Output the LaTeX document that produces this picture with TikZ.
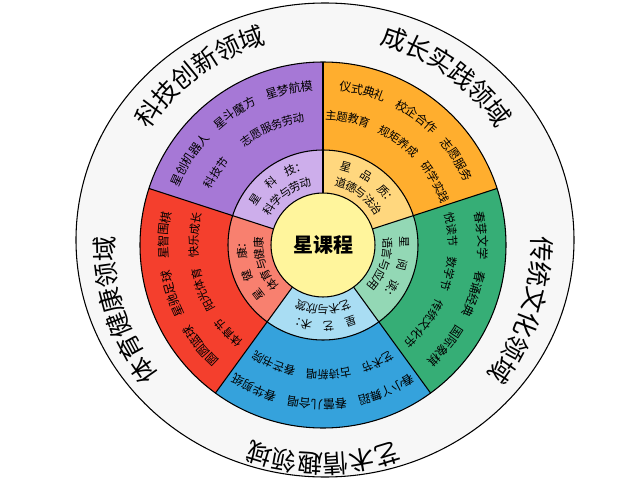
\documentclass[tikz,border=0pt]{standalone}
\usepackage{fontspec}
\setmainfont{Noto Sans CJK SC}
\usetikzlibrary{decorations.text}
\definecolor{purO}{HTML}{A678D6}\definecolor{purI}{HTML}{CDAEEB}
\definecolor{orO}{HTML}{FFAE2E}\definecolor{orI}{HTML}{FFD77E}
\definecolor{grO}{HTML}{36AE76}\definecolor{grI}{HTML}{93D8B5}
\definecolor{blO}{HTML}{35A2DC}\definecolor{blI}{HTML}{A9DDF3}
\definecolor{reO}{HTML}{F43F2D}\definecolor{reI}{HTML}{F8806F}
\definecolor{ctr}{HTML}{FFF59C}
\newcommand\sect[5]{\fill[#5] (#1:#3) arc[start angle=#1,end angle=#2,radius=#3] -- (#2:#4) arc[start angle=#2,end angle=#1,radius=#4] -- cycle;}
\newcommand\arctxt[4]{\path[decorate,decoration={text along path,text={|#3|#4},text align=center,raise=-0.36em}] ({#1+60}:#2) arc[start angle={#1+60},end angle={#1-60},radius=#2];}
\begin{document}
\begin{tikzpicture}[x=0.75pt,y=0.75pt,line width=0.8pt]
\useasboundingbox (0,0) rectangle (640,480);
\fill[white] (0,0) rectangle (640,480);
\draw[fill=gray!6] (325,240) ellipse[x radius=249,y radius=237];
\begin{scope}[shift={(323,235)}]
\sect{90}{162}{95}{183}{purO}\sect{90}{162}{52}{95}{purI}
\sect{18}{90}{95}{183}{orO}\sect{18}{90}{52}{95}{orI}
\sect{-54}{18}{95}{183}{grO}\sect{-54}{18}{52}{95}{grI}
\sect{-126}{-54}{95}{183}{blO}\sect{-126}{-54}{52}{95}{blI}
\sect{162}{234}{95}{183}{reO}\sect{162}{234}{52}{95}{reI}
\draw (0,0) circle[radius=183] (0,0) circle[radius=95];
\foreach \a in {18,90,162,234,306} \draw (\a:52) -- (\a:183);
\node[circle,draw,fill=ctr,minimum size=78pt,inner sep=0pt,font=\fontsize{15}{15}\selectfont\bfseries] (c) at (0,0) {星课程};
% outer labels
\def\big{\fontsize{19}{19}\selectfont}
\arctxt{126}{214}{\big}{科技创新领域}
\arctxt{54}{214}{\big}{成长实践领域}
\arctxt{-18}{214}{\big}{传统文化领域}
\arctxt{-90}{214}{\big}{艺术情趣领域}
\arctxt{198}{214}{\big}{体育健康领域}
\def\it{\fontsize{9}{9}\selectfont}
\def\jt{\fontsize{8.5}{8.5}\selectfont}
\def\mi{\fontsize{8.5}{8.5}\selectfont}
\arctxt{126}{160}{\it}{星创机器人　星斗魔方　星梦航模}
\arctxt{126}{130}{\jt}{科技节　　志愿服务劳动}
\arctxt{126}{82}{\mi}{星　科　技：}
\arctxt{126}{65}{\mi}{科学与劳动}
\arctxt{54}{160}{\it}{仪式典礼　校企合作　志愿服务}
\arctxt{54}{130}{\jt}{主题教育　规矩养成　研学实践}
\arctxt{54}{82}{\mi}{星　品　质：}
\arctxt{54}{65}{\mi}{道德与法治}
\arctxt{-18}{160}{\it}{春芽文学　春诵经典　国际象棋}
\arctxt{-18}{130}{\jt}{悦读节　数学节　传统文化节}
\arctxt{-18}{82}{\mi}{星　阅　读：}
\arctxt{-18}{65}{\mi}{语言与应用}
\arctxt{-90}{160}{\it}{春小丫舞蹈　春蕾儿合唱　春华剪纸}
\arctxt{-90}{130}{\jt}{艺术节　古诗新唱　春芒书院}
\arctxt{-90}{82}{\mi}{星　艺　术：}
\arctxt{-90}{65}{\mi}{艺术与欣赏}
\arctxt{198}{160}{\it}{圆圆篮球　星驰足球　星智围棋}
\arctxt{198}{130}{\jt}{体育节　阳光体育　快乐成长}
\arctxt{198}{82}{\mi}{星　健　康：}
\arctxt{198}{65}{\mi}{体育与健康}
\end{scope}
\end{tikzpicture}
\end{document}
